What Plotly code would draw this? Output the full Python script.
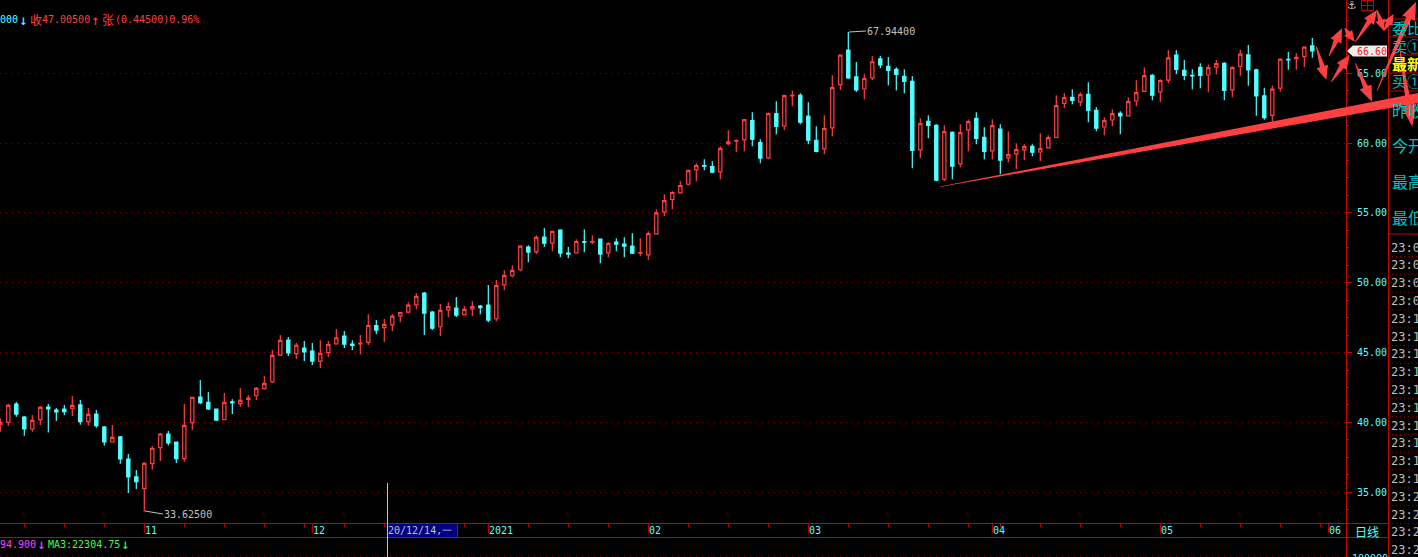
import plotly.graph_objects as go

# One letter per candle: r = rising (hollow red), c = falling (solid cyan)
kinds = (
    "r r c c r r c c c r c r c c r c c c r r r c c r r "
    "c c c r c r r r r r r c r c c r r r c c r "
    "r c r r r r "
    "r c c r r c r r c c r r r r "
    "c r c r c c r c r c r c c c r r "
    "r r r r r r c c r r r r c c r c r r c c c r r r "
    "c c r r c c c c c r c c "
    "r c r r c c r c r r r c r r r "
    "r c r c c r r c r r r c r "
    "r c c c c r r c r "
    "r c c c r r c r r c"
).split()

body_top = [
    40.01, 41.22, 41.32, 40.39, 40.15, 41.08, 41.10, 40.89, 40.96, 41.22,
    41.25, 40.58, 40.60, 39.67, 38.93, 38.96, 37.38, 36.10, 37.07, 38.15,
    39.17, 39.17, 38.60, 39.79, 41.79, 41.82, 41.44, 40.96, 41.44, 41.48,
    41.58, 41.75, 42.44, 42.80, 44.80, 45.87, 45.89, 45.51, 45.32, 45.11,
    44.94, 45.58, 46.06, 46.18, 45.61, 45.68, 46.94, 46.94, 47.02, 47.61,
    47.87, 48.40, 49.02, 49.26, 47.90, 48.02, 48.30, 48.18, 48.09, 48.30,
    48.33, 48.40, 49.80, 50.52, 50.88, 52.62, 52.55, 53.24, 53.26, 53.67,
    53.76, 52.12, 52.95, 52.95, 52.95, 53.12, 52.81, 52.90, 52.76, 52.62,
    52.16, 53.52, 55.00, 55.88, 56.46, 56.96, 58.03, 58.39, 58.39, 58.32,
    59.60, 60.08, 60.18, 61.68, 61.61, 60.03, 62.11, 62.11, 63.39, 63.42,
    63.42, 61.92, 60.20, 61.03, 63.97, 66.30, 66.66, 64.73, 64.61, 65.82,
    66.02, 65.49, 65.28, 64.78, 64.42, 61.39, 61.56, 61.27, 60.82, 60.77,
    60.75, 61.53, 61.77, 60.41, 61.25, 60.99, 59.17, 59.53, 59.75, 59.77,
    59.60, 60.39, 62.68, 63.25, 63.27, 63.46, 63.49, 62.34, 61.61, 62.11,
    62.13, 62.96, 63.61, 64.82, 64.85, 64.47, 66.09, 66.30, 65.20, 64.85,
    65.42, 65.40, 65.68, 65.71, 65.40, 66.36, 66.31, 65.24, 63.38, 63.86,
    66.00, 66.00, 66.14, 66.86, 66.95,
]
body_bottom = [
    39.86, 40.01, 40.60, 39.53, 39.53, 40.20, 40.96, 40.75, 40.77, 40.98,
    40.05, 40.05, 39.77, 38.60, 38.60, 37.38, 36.10, 35.76, 35.26, 37.05,
    38.19, 38.53, 37.41, 37.41, 39.98, 41.41, 40.96, 40.17, 40.20, 41.39,
    41.34, 41.65, 41.91, 42.41, 42.91, 44.82, 44.97, 44.92, 45.04, 44.39,
    44.39, 44.99, 45.63, 45.61, 45.51, 45.63, 45.73, 46.61, 46.78, 46.99,
    47.63, 47.90, 48.42, 47.83, 46.75, 46.85, 48.06, 47.68, 47.71, 48.13,
    48.21, 47.33, 47.42, 49.85, 50.50, 50.93, 52.19, 52.21, 52.83, 52.83,
    52.12, 52.05, 52.14, 52.90, 52.90, 52.05, 52.14, 52.76, 52.62, 52.12,
    52.12, 52.00, 53.50, 55.07, 55.96, 56.43, 57.05, 58.08, 58.34, 57.91,
    57.93, 59.96, 60.13, 60.22, 60.27, 58.91, 58.94, 61.20, 61.22, 63.37,
    61.49, 60.20, 59.41, 59.58, 61.08, 64.18, 64.66, 63.80, 63.87, 64.66,
    65.59, 65.20, 64.92, 64.42, 59.48, 59.51, 61.27, 57.34, 57.41, 58.34,
    58.51, 60.94, 60.34, 59.41, 59.44, 58.77, 58.94, 59.22, 59.51, 59.34,
    59.36, 59.65, 60.41, 62.84, 63.06, 62.94, 62.34, 61.06, 61.15, 61.65,
    61.94, 61.94, 63.01, 63.70, 63.42, 63.66, 64.51, 65.28, 64.85, 64.80,
    64.85, 64.87, 65.44, 63.77, 63.80, 65.48, 65.24, 63.38, 61.81, 61.98,
    63.93, 65.95, 66.05, 66.19, 66.60,
]
highs = [
    40.29, 41.32, 41.46, 40.46, 40.53, 41.17, 41.32, 41.03, 41.25, 41.89,
    41.60, 41.03, 40.89, 39.74, 39.82, 39.03, 37.74, 36.60, 37.15, 38.31,
    39.24, 39.39, 38.60, 41.32, 41.79, 43.03, 42.18, 40.96, 42.10, 41.65,
    42.46, 41.96, 42.53, 43.32, 45.18, 46.25, 46.11, 45.68, 45.82, 45.68,
    45.89, 45.82, 46.68, 46.54, 45.89, 46.25, 47.75, 47.33, 47.40, 47.75,
    47.87, 48.61, 49.26, 49.33, 47.97, 48.47, 48.61, 48.97, 48.33, 48.68,
    48.40, 49.83, 50.19, 50.90, 51.26, 52.69, 52.69, 53.40, 53.91, 53.67,
    53.83, 52.55, 53.12, 53.83, 53.40, 53.12, 52.90, 53.19, 53.26, 53.55,
    53.19, 53.69, 55.26, 56.34, 56.55, 57.27, 58.10, 58.55, 58.84, 58.70,
    59.77, 60.91, 60.27, 61.68, 62.20, 60.27, 62.18, 62.99, 63.46, 63.77,
    63.56, 62.92, 61.20, 61.99, 64.85, 66.30, 67.944, 65.80, 64.92, 66.23,
    66.23, 66.16, 65.42, 65.28, 64.78, 61.77, 61.99, 61.34, 61.27, 60.84,
    61.34, 61.68, 62.20, 61.13, 61.70, 61.34, 60.84, 59.98, 59.91, 59.91,
    60.70, 60.56, 63.42, 63.56, 63.85, 63.63, 64.35, 62.56, 61.84, 62.42,
    62.27, 63.27, 64.49, 65.42, 64.92, 64.56, 66.66, 66.66, 65.94, 65.28,
    65.71, 65.63, 65.94, 65.78, 65.49, 66.67, 67.02, 65.31, 63.95, 64.10,
    66.07, 66.52, 66.45, 66.93, 67.52,
]
lows = [
    39.34, 39.77, 40.41, 39.05, 39.34, 39.82, 39.27, 40.10, 40.53, 40.46,
    39.84, 39.77, 39.62, 38.34, 38.55, 37.05, 34.95, 35.24, 33.625, 36.62,
    37.24, 38.34, 37.10, 37.19, 39.46, 41.32, 40.89, 40.10, 40.17, 40.60,
    41.10, 41.10, 41.60, 42.34, 42.82, 44.75, 44.75, 44.54, 44.39, 44.11,
    43.89, 44.68, 45.61, 45.32, 45.18, 44.87, 45.54, 46.32, 45.75, 46.54,
    47.18, 47.83, 48.11, 46.25, 46.61, 46.18, 47.54, 47.54, 47.68, 47.61,
    47.75, 47.18, 47.25, 49.47, 50.40, 50.83, 51.47, 52.05, 52.55, 52.26,
    51.83, 51.76, 52.12, 52.19, 52.76, 51.40, 51.83, 52.26, 51.83, 52.05,
    51.90, 51.62, 53.50, 54.76, 55.26, 56.43, 56.98, 57.27, 58.05, 57.84,
    57.41, 59.84, 59.34, 59.41, 59.77, 58.55, 58.84, 60.63, 60.91, 62.63,
    61.34, 59.91, 59.34, 59.20, 60.48, 63.80, 64.58, 63.65, 63.13, 64.49,
    65.35, 64.13, 63.77, 63.56, 58.20, 58.91, 60.34, 57.27, 57.27, 57.41,
    58.27, 59.41, 59.91, 58.84, 58.84, 57.77, 58.63, 58.12, 58.77, 59.05,
    58.70, 59.63, 60.37, 62.49, 62.77, 62.63, 61.49, 60.84, 60.56, 61.20,
    60.63, 61.92, 62.63, 63.63, 63.06, 62.92, 64.28, 64.92, 64.49, 63.85,
    63.92, 63.63, 64.92, 63.06, 63.27, 64.81, 64.10, 61.95, 61.67, 61.52,
    63.67, 65.24, 65.24, 65.45, 66.10,
]
price_ticks = [35, 40, 45, 50, 55, 60, 65]
month_index = [18, 39, 61, 81, 101, 124, 145, 166]
month_labels = ["11", "12", "2021", "02", "03", "04", "05", "06"]
week_index = [3, 8, 13, 18, 23, 28, 33, 38, 43, 48, 53, 58, 66, 71, 76, 86, 91, 96,
              106, 111, 116, 121, 125, 130, 135, 140, 150, 155, 160, 165]
side_labels = ["委比", "卖①", "最新", "买①", "昨收", "今开", "最高", "最低"]
time_labels = ["23:0"] * 4 + ["23:1"] * 10 + ["23:2"] * 4

n = min(len(kinds), len(body_top))
index = list(range(n))
opens = [b if kinds[i] == "r" else t for i, (t, b) in enumerate(zip(body_top[:n], body_bottom[:n]))]
closes = [t if kinds[i] == "r" else b for i, (t, b) in enumerate(zip(body_top[:n], body_bottom[:n]))]

W, H = 1418, 557
PW, PH = 1346, 523
RED = "#ff4040"
CYAN = "#55ffff"
AXIS = "#c80000"
TEAL = "#00c0c0"
GREY = "#c0c0c0"
MONO = "DejaVu Sans Mono"
CJK = "Noto Sans CJK SC"


def px(x):
    return x / PW


def py(y):
    return (PH - y) / PH


fig = go.Figure(go.Candlestick(
    x=index, open=opens, high=highs[:n], low=lows[:n], close=closes,
    whiskerwidth=0,
    increasing=dict(line=dict(color=RED, width=1.2), fillcolor="#000000"),
    decreasing=dict(line=dict(color=CYAN, width=1.2), fillcolor=CYAN),
    hoverinfo="skip",
))

shapes = []
annots = []


def hline(x0, x1, y, color=AXIS, width=1, dash="solid"):
    shapes.append(dict(type="line", xref="paper", yref="paper", x0=px(x0), x1=px(x1), y0=py(y), y1=py(y),
                       line=dict(color=color, width=width, dash=dash)))


def vline(x, y0, y1, color=AXIS, width=1):
    shapes.append(dict(type="line", xref="paper", yref="paper", x0=px(x), x1=px(x), y0=py(y0), y1=py(y1),
                       line=dict(color=color, width=width)))


def label(x, y, text, color, size=10, family=MONO, anchor="left", bold=False):
    t = f"<b>{text}</b>" if bold else text
    annots.append(dict(xref="paper", yref="paper", x=px(x), y=py(y), text=t, showarrow=False,
                       xanchor=anchor, yanchor="middle", borderpad=0, borderwidth=0,
                       font=dict(family=family, size=size, color=color)))


def poly(points, color=RED):
    path = "M" + " L".join(f"{px(a):.6f},{py(b):.6f}" for a, b in points) + " Z"
    shapes.append(dict(type="path", xref="paper", yref="paper", path=path,
                       fillcolor=color, line=dict(width=0), layer="above"))


def arrow(x0, y0, x1, y1, w0=0.8, w1=5, hw=12, hl=14):
    L = ((x1 - x0) ** 2 + (y1 - y0) ** 2) ** 0.5
    ux, uy = (x1 - x0) / L, (y1 - y0) / L
    nx, ny = -uy, ux
    bx, by = x1 - ux * hl, y1 - uy * hl
    poly([(x0 + nx * w0 / 2, y0 + ny * w0 / 2), (bx + nx * w1 / 2, by + ny * w1 / 2),
          (bx + nx * hw / 2, by + ny * hw / 2), (x1, y1),
          (bx - nx * hw / 2, by - ny * hw / 2), (bx - nx * w1 / 2, by - ny * w1 / 2),
          (x0 - nx * w0 / 2, y0 - ny * w0 / 2)])


# frame
hline(0, 1388, 523.5)
hline(0, 1388, 537.5)
hline(0, 1346, 556, color="#900000", dash="1px,5px")
vline(1346.5, 0, 557)
vline(1388.5, 0, 557)
for y in (19, 37, 55, 73, 91, 234):
    hline(1388, 1418, y)
for k in range(len(time_labels)):
    hline(1388, 1418, 256.5 + k * 17.8, color="#900000", dash="1px,3px")

# month ticks and labels
for i, t in zip(month_index, month_labels):
    shapes.append(dict(type="line", xref="x", yref="paper", x0=i + 0.04, x1=i + 0.04, y0=py(523), y1=py(533),
                       line=dict(color=AXIS, width=1)))
    annots.append(dict(xref="x", yref="paper", x=i, y=py(530.5), text=t, showarrow=False, xanchor="left",
                       yanchor="middle", xshift=-1, font=dict(family=MONO, size=10, color=CYAN)))

# crosshair and date box
shapes.append(dict(type="rect", xref="paper", yref="paper", x0=px(388), x1=px(457), y0=py(524), y1=py(537),
                   fillcolor="#000080", line=dict(width=0)))
vline(457.5, 523, 537)
vline(387.5, 483, 557, color=GREY)
label(388, 530.5, "20/12/14,一", GREY, size=10)
label(1355, 531, "日线", CYAN, size=12, family=CJK)

# header and footer text
label(0, 19.5, "000", CYAN)
label(19, 19.5, "↓", CYAN, size=14)
label(30, 19.5, "收", RED, size=12, family=CJK)
label(42, 19.5, "47.00500", RED)
label(91, 19.5, "↑", RED, size=14)
label(102, 19.5, "张", RED, size=12, family=CJK)
label(115, 19.5, "(0.44500)0.96%", RED)
label(0, 544, "94.900", "#ff40ff")
label(37, 544, "↓", "#ff40ff", size=14)
label(48, 544, "MA3:22304.75", "#40ff40")
label(121, 544, "↓", "#40ff40", size=14)

# extreme markers
shapes.append(dict(type="line", xref="paper", yref="paper", x0=px(145), x1=px(163), y0=py(511), y1=py(514),
                   line=dict(color=GREY, width=1)))
label(164, 514, "33.62500", GREY)
shapes.append(dict(type="line", xref="paper", yref="paper", x0=px(849), x1=px(866), y0=py(32), y1=py(31),
                   line=dict(color=GREY, width=1)))
label(867, 31, "67.94400", GREY)

# side panel
for t, y, c in zip(side_labels, (28, 45, 63, 81, 110, 145, 181, 217),
                   (TEAL, TEAL, "#ffff00", TEAL, TEAL, TEAL, TEAL, TEAL)):
    label(1392, y, t, c, size=15 if y < 90 else 16, family=CJK, bold=c == "#ffff00")
for k, t in enumerate(time_labels):
    label(1391, 247.5 + k * 17.8, t, GREY, size=12)
label(1352, 558, "100000", CYAN)

# toolbar icons
label(1352, 5, "⚓", GREY, size=11, anchor="center", family="DejaVu Sans")
shapes.append(dict(type="rect", xref="paper", yref="paper", x0=px(1361.5), x1=px(1373.5), y0=py(0.5), y1=py(10.5),
                   line=dict(color=AXIS, width=1), fillcolor="rgba(0,0,0,0)"))
hline(1361, 1374, 5.5)
vline(1367.5, 0, 10)

# hand-drawn trend wedge and arrows
poly([(940, 186.5), (1418, 93), (1418, 103), (940, 187)])
arrow(1316.3, 46.7, 1326.3, 80)
arrow(1331.3, 81.7, 1349.7, 55)
arrow(1329, 56, 1342, 28.3)
arrow(1344.7, 28.3, 1354.7, 41.7, hl=11, hw=10)
arrow(1355.3, 41.7, 1377, 10)
arrow(1377, 10, 1383.7, 30.7, hl=11, hw=10)
arrow(1383.7, 30.7, 1393.7, 14, hl=11, hw=10)
arrow(1355.3, 63.3, 1372, 101.7, hl=16, hw=13)
arrow(1377, 90.7, 1416, 1.7, hl=18, w1=5.5, hw=14)
arrow(1399.7, 48.3, 1412.3, 126.7, hl=22, w1=5.5, hw=15)

# latest price callout
poly([(1347, 51), (1353, 45.5), (1387, 45.5), (1387, 56.5), (1353, 56.5)], color="#f0f0e8")
label(1357, 51, "66.60", "#ff2020")

layout_x = dict(range=[-0.0375, PW / 8 - 0.0375], tickmode="array", tickvals=week_index, ticks="outside", ticklen=3,
                tickcolor=AXIS, showticklabels=False, showgrid=False, zeroline=False, showline=False,
                rangeslider=dict(visible=False), fixedrange=True)
layout_y = dict(range=[32.80, 70.24], side="right", tickmode="array", tickvals=price_ticks, tickformat=".2f",
                ticks="outside", ticklen=5, tickcolor=AXIS, tickfont=dict(family=MONO, size=10, color=CYAN),
                ticklabelstandoff=3, showgrid=True, gridcolor="#8a0000", griddash="1px,5px", gridwidth=1,
                zeroline=False, showline=False, fixedrange=True,
                minor=dict(tick0=35, dtick=1.25, ticks="outside", ticklen=2, tickcolor=AXIS, showgrid=False))
fig.update_layout(width=W, height=H, margin=dict(l=0, r=W - PW, t=0, b=H - PH, pad=0),
                  paper_bgcolor="#000000", plot_bgcolor="#000000", showlegend=False, boxgap=0.42,
                  xaxis=layout_x, yaxis=layout_y, shapes=shapes, annotations=annots)
fig.write_html("out.html", config=dict(displayModeBar=False, responsive=False),
               post_script="document.body.style.margin='0';document.body.style.background='#000';"
                           "document.documentElement.style.overflow='hidden';")
